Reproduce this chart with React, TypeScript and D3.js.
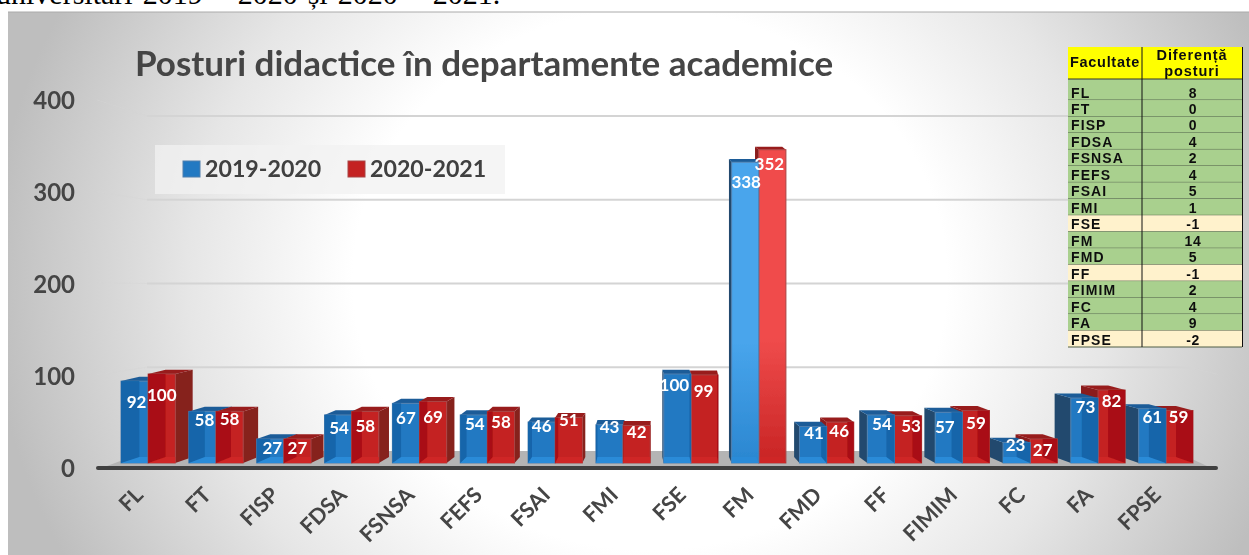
import React from "react";
import * as d3 from "d3";

const categories = ["FL","FT","FISP","FDSA","FSNSA","FEFS","FSAI","FMI","FSE","FM","FMD","FF","FIMIM","FC","FA","FPSE"];
const seriesNames = ["2019-2020","2020-2021"];
const values2019 = [92,58,27,54,67,54,46,43,100,338,41,54,57,23,73,61];
const values2020 = [100,58,27,58,69,58,51,42,99,352,46,53,59,27,82,59];
const yTicks = [0,100,200,300,400];
const tableHeader = ["Facultate","Diferență","posturi"];
const tableFaculties = ["FL","FT","FISP","FDSA","FSNSA","FEFS","FSAI","FMI","FSE","FM","FMD","FF","FIMIM","FC","FA","FPSE"];
const tableDiffs = [8,0,0,4,2,4,5,1,-1,14,5,-1,2,4,9,-2];

// Manual data-label placement, as px below the top of each bar
const labelDrop2019 = [21,9,9,13,15,9,4,2,11,20,6.5,9,15,2.5,9,8];
const labelDrop2020 = [21,7.5,9,14.5,15.4,10.6,2.4,6.4,16,14,9,10,12.5,11,11,6.5];
const labelShift2019 = [2,2,2,1,0,1,0,0,-3,1,1,1,-4,-1,1,0];
const labelShift2020 = [0,0,0,0,0,0,0,0,-1,-3,-1,3,0,-1,0,-1];

const palette = [
  { main:"#2379c2", strip:"#1565aa", side:"#214a6e", sideLeft:"#214a6e", top:"#1d5c98", floor:"#2c8bd8", line:"#4f7fae", hiTop:"#48a5ec", hiBottom:"#2a86d0" },
  { main:"#c42020", strip:"#a90f12", side:"#86201f", sideLeft:"#8a1c1c", top:"#981e1e", floor:"#cf2626", line:"#a84444", hiTop:"#f04c4c", hiBottom:"#c82424" },
];

const FONT = "Lato, sans-serif";
const W = 1249, H = 555;

const x0 = d3.scaleBand<string>().domain(categories).range([121,1193]).paddingInner(0.2).paddingOuter(0);
const x1 = d3.scaleBand<string>().domain(seriesNames).range([0,x0.bandwidth()]);
const yFront = d3.scaleLinear().domain([0,400]).range([463,107]);   // front plane of bars
const yWall = d3.scaleLinear().domain([0,400]).range([451,116]);    // back wall
const yEdge = d3.scaleLinear().domain([0,400]).range([466,100]);    // outer wall edge
const yLabel = d3.scaleLinear().domain([0,400]).range([469,101]);
const rowY = d3.scaleLinear().domain([0,16]).range([83.6,347]);

const VANISH = 665;
function depth(x:number,w:number){
  if (x+w < VANISH) return (VANISH-(x+w))*0.0355;
  if (x > VANISH) return Math.max(-17,(VANISH-x)*0.04);
  return -1.5;
}

function Bar({x,w,value,s,hi}:{x:number,w:number,value:number,s:number,hi:boolean}){
  const p = palette[s];
  const yb = yFront(0), yt = yFront(value);
  const dx = depth(x,w);
  const dt = 3+(yt-150)*0.006, db = 6;
  const pts = (a:number[][]) => a.map(q=>q.join(",")).join(" ");
  const sideX = dx>0 ? x+w : x;
  const cl = (v:number)=>Math.min(x+w,Math.max(x,v));
  return <g>
    <polygon points={pts([[sideX,yt],[sideX+dx,yt-dt],[sideX+dx,yb-db],[sideX,yb]])} fill={dx>0?p.side:p.sideLeft}/>
    <polygon points={pts([[x,yt],[x+w,yt],[x+w+dx,yt-dt],[x+dx,yt-dt]])} fill={p.top}/>
    <rect x={x} y={yt} width={w} height={yb-yt} fill={hi?`url(#hi${s})`:p.main} stroke={p.line} strokeWidth={1}/>
    {!hi && <rect x={dx>0?x:x+w+dx} y={yt} width={Math.abs(dx)} height={yb-yt} fill={p.strip}/>}
    <polygon points={pts([[x,yb],[x+w,yb],[cl(x+w+dx),yb-db],[cl(x+dx),yb-db]])} fill={p.floor}/>
  </g>;
}

export default function App(){
  const groups = categories.map((c,i)=>({c,i,x:x0(c)!,vals:[values2019[i],values2020[i]]}));
  const w = x1.bandwidth();
  const leftFirst = groups.filter(g=>g.x+x0.bandwidth()/2<VANISH);
  const rightFirst = groups.filter(g=>g.x+x0.bandwidth()/2>=VANISH).reverse();
  const groupMarks = (g:any,order:number[]) => order.map(s=>(
    <Bar key={s} x={g.x+x1(seriesNames[s])!} w={w} value={g.vals[s]} s={s} hi={g.c==="FM"}/>
  ));
  return (
    <svg width={W} height={H} viewBox={`0 0 ${W} ${H}`} style={{position:"absolute",left:0,top:0,display:"block",background:"#fff"}}>
      <defs>
        <radialGradient id="bg" gradientUnits="userSpaceOnUse" cx={0} cy={0} r={1} gradientTransform="translate(650,280) scale(660,600)">
          <stop offset="0.45" stopColor="#ffffff"/>
          <stop offset="0.7" stopColor="#e6e6e6"/>
          <stop offset="1" stopColor="#bebebe"/>
        </radialGradient>
        {palette.map((p,s)=>(
          <linearGradient key={s} id={`hi${s}`} x1="0" y1="0" x2="0" y2="1">
            <stop offset="0" stopColor={p.hiTop}/>
            <stop offset="0.6" stopColor={p.hiTop}/>
            <stop offset="1" stopColor={p.hiBottom}/>
          </linearGradient>
        ))}
        <filter id="soft" x="-2%" y="-2%" width="104%" height="104%"><feGaussianBlur stdDeviation="0.45"/></filter>
      </defs>

      <text x={-4} y={4} fontFamily="'Liberation Serif', serif" fontSize={30} fill="#000" wordSpacing={2.5}>universitari 2019 – 2020 și 2020 – 2021.</text>

      <rect x={8} y={12} width={W-8} height={H-12} fill="url(#bg)"/>
      <line x1={8} x2={W} y1={12} y2={12} stroke="#aaa" strokeWidth={1}/>

      <g filter="url(#soft)">
        <text x={135} y={76} fontFamily={FONT} fontWeight={700} fontSize={35} fill="#444">Posturi didactice în departamente academice</text>

        {yTicks.filter(t=>t>0).map(t=>(
          <g key={t} stroke="#d4d4d4" fill="none">
            <line x1={147} x2={1190} y1={yWall(t)} y2={yWall(t)} strokeWidth={2}/>
            <line x1={97} x2={147} y1={yEdge(t)} y2={yWall(t)} strokeWidth={1} opacity={0.45}/>
            <line x1={1190} x2={1218} y1={yWall(t)} y2={yEdge(t)} strokeWidth={1} opacity={0.45}/>
          </g>
        ))}
        {yTicks.map(t=>(
          <text key={t} x={75} y={yLabel(t)} dy="0.35em" textAnchor="end" fontFamily={FONT} fontWeight={700} fontSize={24} fill="#444">{t}</text>
        ))}

        <rect x={155} y={145} width={350} height={49} fill="#f2f2f2" opacity={0.75}/>
        {seriesNames.map((n,s)=>{
          const lx = d3.scaleLinear().domain([0,1]).range([183,348])(s);
          return <g key={n}>
            <rect x={lx} y={161} width={17} height={16} fill={palette[s].main} stroke={palette[s].line}/>
            <text x={lx+22} y={177} fontFamily={FONT} fontWeight={700} fontSize={23.2} fill="#404040">{n}</text>
          </g>;
        })}

        <polygon points="147,451 1175,451 1207,466 107,466" fill="#b4b4b4"/>
        <rect x={96} y={466} width={1122} height={4} rx={2} fill="#404040"/>

        {leftFirst.map(g=><g key={g.c}>{groupMarks(g,[0,1])}</g>)}
        {rightFirst.map(g=><g key={g.c}>{groupMarks(g,[1,0])}</g>)}

        {groups.map(g=>g.vals.map((v,s)=>{
          const drop = (s===0?labelDrop2019:labelDrop2020)[g.i];
          const shift = (s===0?labelShift2019:labelShift2020)[g.i];
          return <text key={s} x={g.x+x1(seriesNames[s])!+w/2+shift} y={yFront(v)+drop} dy="0.35em" textAnchor="middle" fontFamily={FONT} fontWeight={700} fontSize={17} fill="#fff">{v}</text>;
        }))}

        {groups.map(g=>{
          const cx = g.x+x0.bandwidth()/2-9, cy = 491;
          return <text key={g.c} transform={`translate(${cx},${cy}) rotate(-45)`} textAnchor="end" dy="0.35em" fontFamily={FONT} fontWeight={700} fontSize={21.5} fill="#444">{g.c}</text>;
        })}

        {/* table */}
        <g fontFamily="'Liberation Sans', Arial, sans-serif" fontWeight={700} fill="#111">
          <rect x={1068} y={47} width={174} height={32} fill="#ffff00"/>
          <rect x={1068} y={79} width={174} height={rowY(1)-79} fill="#a9d08e"/>
          {tableFaculties.map((f,i)=>{
            const neg = tableDiffs[i]<0;
            const top = i===0?79:rowY(i), bot = rowY(i+1);
            return <g key={f}>
              <rect x={1068} y={top} width={174} height={bot-top} fill={neg?"#fff2cc":"#a9d08e"}/>
              <line x1={1068} x2={1242} y1={bot} y2={bot} stroke={"#4f5f48"} strokeWidth={1}/>
              <text x={1071} y={bot-2.5} fontSize={14} letterSpacing={1.1} fill="#111">{f}</text>
              <text x={1193} y={bot-2.5} textAnchor="middle" fontSize={14} letterSpacing={0.6} fill="#111">{tableDiffs[i]}</text>
            </g>;
          })}
          <line x1={1068} x2={1242} y1={79} y2={79} stroke="#333" strokeWidth={1}/>
          <line x1={1142} x2={1142} y1={47} y2={347} stroke="#111" strokeWidth={1}/>
          <line x1={1242.5} x2={1242.5} y1={47} y2={347} stroke="#111" strokeWidth={1}/>
          <text x={1070} y={67} fontSize={14.5} letterSpacing={0.7}>{tableHeader[0]}</text>
          <text x={1192} y={60} textAnchor="middle" fontSize={14.5} letterSpacing={0.9}>{tableHeader[1]}</text>
          <text x={1192} y={76} textAnchor="middle" fontSize={14.5} letterSpacing={0.9}>{tableHeader[2]}</text>
        </g>
      </g>
    </svg>
  );
}
